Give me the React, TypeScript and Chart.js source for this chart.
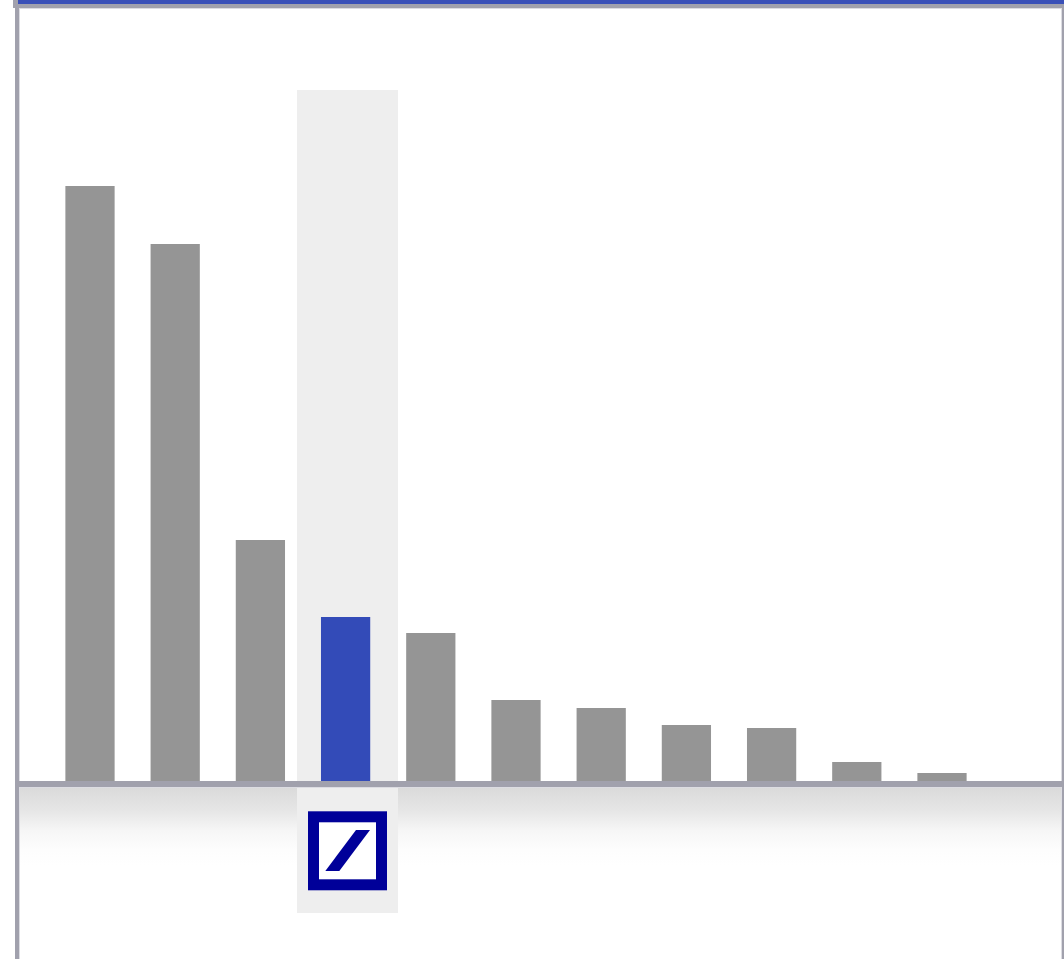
import React, { useEffect, useRef } from "react";
import { Chart, registerables } from "chart.js";

Chart.register(...registerables);

const categories = ["1", "2", "3", "Deutsche Bank", "5", "6", "7", "8", "9", "10", "11"];
const values = [595, 537, 241, 164, 148, 81, 73, 56, 53, 19, 8];
const highlighted = "Deutsche Bank";
const GREY = "#959595";
const BLUE = "#334bb8";
const FRAME = "#a1a1ad";
const BAND = "#eeeeee";
const LOGO = "#000099";

const chrome = {
  id: "chrome",
  beforeDatasetsDraw(chart: any) {
    const { ctx, scales } = chart;
    const i = categories.indexOf(highlighted);
    const cx = scales.x.getPixelForValue(i);
    const base = scales.y.getPixelForValue(0);
    ctx.save();
    // floor gradient
    const g = ctx.createLinearGradient(0, base + 6, 0, base + 85);
    g.addColorStop(0, "#dadada");
    g.addColorStop(0.3, "#e6e6e6");
    g.addColorStop(0.55, "#f6f6f6");
    g.addColorStop(0.8, "#fdfdfd");
    g.addColorStop(1, "#ffffff");
    ctx.fillStyle = g;
    ctx.fillRect(20, base + 6, 1041, 85);
    // highlight band
    ctx.fillStyle = BAND;
    ctx.fillRect(cx - 48.6, 90, 101, 823);
    // frame
    ctx.fillStyle = "#dcdce2";
    ctx.fillRect(19, 8, 1, 951);
    ctx.fillRect(19, 8, 1043, 1);
    ctx.fillRect(1061, 8, 1, 951);
    ctx.fillRect(20, base + 6, 1041, 1);
    ctx.fillStyle = FRAME;
    ctx.fillRect(15, 0, 4, 959);
    ctx.fillRect(13, 0, 5, 8);
    ctx.fillRect(15, 4, 1049, 4);
    ctx.fillRect(1062, 0, 2, 959);
    ctx.fillRect(19, base, 1043, 6);
    ctx.fillStyle = "#3a50b8";
    ctx.fillRect(18, 0, 1046, 4);
    // logo
    const lx = cx - 37.6;
    ctx.fillStyle = LOGO;
    ctx.fillRect(lx, 811.3, 79, 79);
    ctx.fillStyle = "#ffffff";
    ctx.fillRect(lx + 11, 822.3, 57, 57);
    ctx.fillStyle = LOGO;
    ctx.beginPath();
    ctx.moveTo(lx + 48, 830);
    ctx.lineTo(lx + 62, 830);
    ctx.lineTo(lx + 31.3, 871);
    ctx.lineTo(lx + 17.3, 871);
    ctx.closePath();
    ctx.fill();
    ctx.restore();
  },
};

export default function App() {
  const ref = useRef<HTMLCanvasElement>(null);
  useEffect(() => {
    const chart = new Chart(ref.current as HTMLCanvasElement, {
      type: "bar",
      data: {
        labels: categories,
        datasets: [
          {
            data: values,
            backgroundColor: categories.map((c) => (c === highlighted ? BLUE : GREY)),
            barPercentage: 0.578,
            categoryPercentage: 1,
          },
        ],
      },
      options: {
        animation: false,
        responsive: false,
        layout: { padding: { left: 47.4, right: 79.4, top: 0, bottom: 178 } },
        plugins: { legend: { display: false }, title: { display: false }, tooltip: { enabled: false } },
        scales: {
          x: { display: false },
          y: { display: false, min: 0, max: 781 },
        },
      },
      plugins: [chrome],
    });
    return () => chart.destroy();
  }, []);
  return (
    <div style={{ position: "absolute", left: 0, top: 0, width: 1064, height: 959, background: "#fff" }}>
      <canvas ref={ref} width={1064} height={959} style={{ display: "block", width: 1064, height: 959 }} />
    </div>
  );
}
